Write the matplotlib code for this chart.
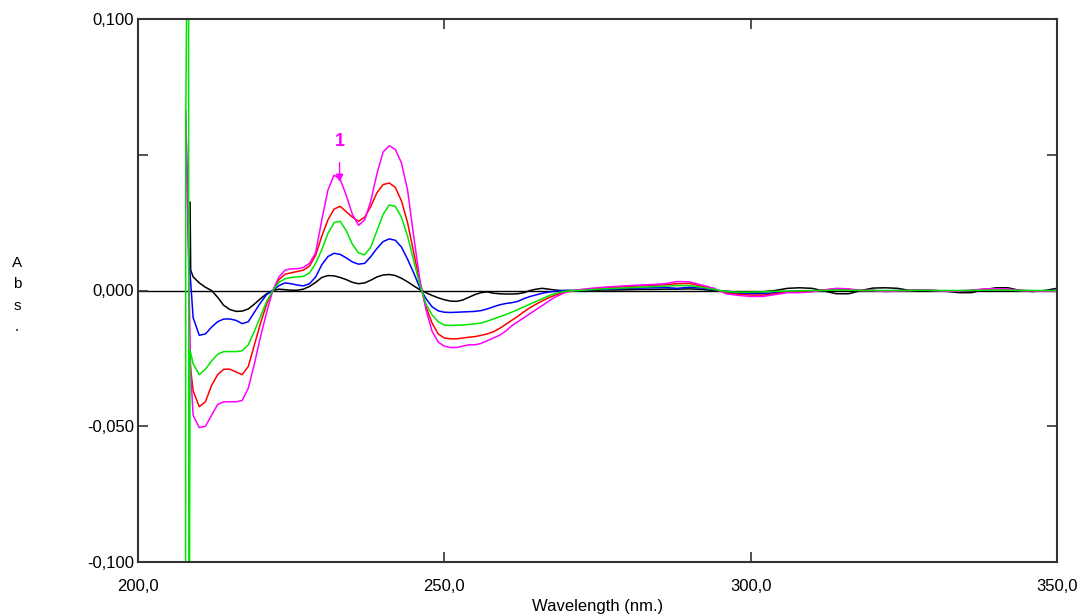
import matplotlib
matplotlib.use("Agg")
import matplotlib.pyplot as plt

plt.rcParams['font.family'] = ['Liberation Sans Narrow', 'Liberation Sans', 'DejaVu Sans']

# wavelengths (nm)
MAIN_X = [209, 210, 211, 212, 213, 214, 215, 216, 217, 218, 219, 220, 221, 222,
          223, 224, 225, 226, 227, 228, 229, 230, 231, 232, 233, 234, 235, 236,
          237, 238, 239, 240, 241, 242, 243, 244, 245, 246, 247, 248, 249, 250,
          251, 252, 253, 254, 255, 256, 257, 258, 259, 260, 261, 262, 263, 264,
          265, 266, 267, 268, 269, 270]
TAIL_X = [272, 274, 276, 278, 280, 282, 284, 286, 288, 290, 292, 294, 296, 298,
          300, 302, 304, 306, 308, 310, 312, 314, 316, 318, 320, 322, 324, 326,
          328, 330, 332, 334, 336, 338, 340, 342, 344, 346, 348, 350]

# magenta (1)
mag_head_x = [207.8, 208.3, 208.6]
mag_head = [0.066, 0.005, -0.030]
mag_main = [-0.046, -0.0505, -0.050, -0.046, -0.042, -0.041, -0.041, -0.041, -0.0405,
            -0.036, -0.027, -0.017, -0.008, 0.0, 0.005, 0.0075, 0.008, 0.008, 0.0085,
            0.010, 0.014, 0.026, 0.037, 0.0425, 0.041, 0.035, 0.028, 0.024, 0.026,
            0.033, 0.043, 0.051, 0.0533, 0.052, 0.047, 0.037, 0.020, 0.004, -0.007,
            -0.015, -0.019, -0.0205, -0.021, -0.021, -0.0205, -0.020, -0.020, -0.0195,
            -0.0185, -0.0175, -0.0165, -0.015, -0.013, -0.0115, -0.010, -0.0085,
            -0.007, -0.0055, -0.004, -0.0025, -0.0015, -0.0005]
mag_tail = [0.0003, 0.0008, 0.0012, 0.0015, 0.0018, 0.002, 0.0022, 0.0025, 0.0033,
            0.0032, 0.002, 0.0008, -0.0012, -0.0018, -0.0022, -0.0022, -0.0015,
            -0.0008, -0.0008, -0.0005, 0.0002, 0.0008, 0.0006, 0.0, 0.0, -0.0004,
            -0.0002, 0.0, 0.0003, 0.0, -0.0003, -0.0002, 0.0, 0.0006, 0.0007, 0.0005,
            0.0, -0.0002, -0.0003, -0.0003]

# red
red_head_x = [208.4]
red_head = [-0.025]
red_main = [-0.037, -0.0428, -0.041, -0.035, -0.031, -0.029, -0.029, -0.030, -0.031,
            -0.028, -0.020, -0.012, -0.005, 0.0, 0.004, 0.006, 0.0065, 0.007, 0.0075,
            0.009, 0.013, 0.020, 0.026, 0.030, 0.031, 0.029, 0.027, 0.0255, 0.027,
            0.031, 0.036, 0.039, 0.0396, 0.038, 0.033, 0.025, 0.014, 0.003, -0.006,
            -0.012, -0.016, -0.0175, -0.0178, -0.0178, -0.0175, -0.0172, -0.017,
            -0.0165, -0.016, -0.0152, -0.014, -0.0125, -0.011, -0.0095, -0.0078,
            -0.0063, -0.005, -0.0038, -0.0027, -0.0018, -0.001, -0.0005]
red_tail = [0.0002, 0.0006, 0.001, 0.0012, 0.0015, 0.0017, 0.0019, 0.0021, 0.0025,
            0.0026, 0.0016, 0.0006, -0.0009, -0.0014, -0.0017, -0.0017, -0.0012,
            -0.0006, -0.0005, -0.0003, 0.0002, 0.0006, 0.0004, 0.0, 0.0, -0.0003,
            -0.0001, 0.0, 0.0002, 0.0, -0.0002, -0.0001, 0.0, 0.0004, 0.0005, 0.0004,
            0.0, -0.0001, -0.0002, -0.0002]

# green
grn_head_x = [207.75, 207.8, 208.25, 208.3, 208.5]
grn_head = [-0.2, 0.064, 0.2, -0.2, -0.022]
grn_main = [-0.027, -0.031, -0.029, -0.026, -0.0235, -0.0225, -0.0225, -0.0225,
            -0.0222, -0.020, -0.015, -0.0095, -0.004, 0.0, 0.003, 0.0043, 0.0048,
            0.005, 0.0052, 0.0065, 0.010, 0.015, 0.021, 0.025, 0.0255, 0.022, 0.017,
            0.0138, 0.0132, 0.016, 0.022, 0.028, 0.0315, 0.031, 0.027, 0.020, 0.011,
            0.002, -0.005, -0.009, -0.0115, -0.0127, -0.0129, -0.0128, -0.0127,
            -0.0125, -0.0123, -0.012, -0.0113, -0.0105, -0.0097, -0.0089, -0.008,
            -0.007, -0.006, -0.005, -0.004, -0.003, -0.002, -0.0012, -0.0006, -0.0002]
grn_tail = [0.0, 0.0003, 0.0006, 0.0008, 0.001, 0.0012, 0.0014, 0.0016, 0.0018,
            0.0018, 0.0012, 0.0004, -0.0004, -0.0006, -0.0006, -0.0005, -0.0003,
            -0.0002, -0.0001, 0.0, 0.0, 0.0002, 0.0001, 0.0, 0.0, 0.0, 0.0, 0.0,
            0.0001, 0.0, 0.0, 0.0, 0.0, 0.0001, 0.0002, 0.0001, 0.0, 0.0, 0.0, -0.0001]

# blue
blu_head_x = [207.8, 208.3, 208.6]
blu_head = [0.063, 0.012, 0.003]
blu_main = [-0.010, -0.0165, -0.016, -0.0135, -0.0115, -0.0105, -0.0105, -0.011,
            -0.0122, -0.0115, -0.008, -0.0045, -0.0015, 0.0, 0.0018, 0.0028, 0.0025,
            0.002, 0.0017, 0.0025, 0.005, 0.0095, 0.0125, 0.0137, 0.0133, 0.012,
            0.0105, 0.0097, 0.010, 0.0125, 0.0155, 0.018, 0.019, 0.0185, 0.016,
            0.0115, 0.0065, 0.001, -0.003, -0.006, -0.0075, -0.008, -0.0081, -0.008,
            -0.0079, -0.0078, -0.0077, -0.0074, -0.0068, -0.006, -0.0053, -0.0048,
            -0.0045, -0.004, -0.003, -0.0022, -0.0016, -0.001, -0.0006, -0.0003,
            -0.0001, 0.0]
blu_tail = [0.0, 0.0003, 0.0005, 0.0006, 0.0008, 0.0009, 0.001, 0.0011, 0.0008,
            0.0012, 0.0009, 0.0003, -0.0006, -0.001, -0.0012, -0.0012, -0.0008,
            -0.0004, -0.0003, -0.0002, 0.0001, 0.0004, 0.0003, 0.0, 0.0, -0.0002,
            0.0, 0.0, 0.0002, 0.0, -0.0002, -0.0001, 0.0, 0.0003, 0.0004, 0.0003,
            0.0, -0.0001, -0.0001, 0.0]

# black
blk_head_x = [208.5, 208.6]
blk_head = [0.0325, 0.0075]
blk_main = [0.005, 0.0028, 0.0012, 0.0, -0.0025, -0.0055, -0.007, -0.0077, -0.0076,
            -0.0068, -0.005, -0.003, -0.0012, 0.0, 0.0005, 0.0003, 0.0001, 0.0001,
            0.0005, 0.0015, 0.003, 0.0048, 0.0055, 0.0054, 0.0048, 0.004, 0.003,
            0.0025, 0.0028, 0.0038, 0.005, 0.0057, 0.0059, 0.0055, 0.0045, 0.0032,
            0.0017, 0.0003, -0.0008, -0.0018, -0.0027, -0.0034, -0.0039, -0.004,
            -0.0035, -0.0025, -0.0015, -0.0008, -0.0005, -0.001, -0.0012, -0.0013,
            -0.0013, -0.0012, -0.0008, 0.0, 0.0005, 0.0008, 0.0005, 0.0002, 0.0, 0.0]
blk_tail = [0.0, 0.0, 0.0002, 0.0002, 0.0003, 0.0004, 0.0004, 0.0005, 0.0005, 0.0006,
            0.0004, 0.0, -0.0003, -0.0006, -0.0008, -0.0005, 0.0, 0.0008, 0.001,
            0.0008, -0.0002, -0.0012, -0.0012, 0.0, 0.0009, 0.001, 0.0008, 0.0,
            -0.0002, -0.0002, -0.0003, -0.0008, -0.0008, 0.0002, 0.001, 0.001, 0.0,
            -0.0004, 0.0, 0.0008]

X_TICKS = [200, 250, 300, 350]
X_LABELS = ['200,0', '250,0', '300,0', '350,0']
Y_TICKS = [-0.1, -0.05, 0.0, 0.05, 0.1]
Y_LABELS = ['-0,100', '-0,050', '0,000', '', '0,100']

fig = plt.figure(figsize=(10.82, 6.15), dpi=100)
ax = fig.add_axes([138 / 1082, 1 - 562 / 615, (1057 - 138) / 1082, (562 - 19) / 615])

ax.axhline(0, color='black', lw=1.0, zorder=1)

series = [
    (blk_head_x, blk_head, blk_main, blk_tail, 'black'),
    (blu_head_x, blu_head, blu_main, blu_tail, '#0000ff'),
    (red_head_x, red_head, red_main, red_tail, '#ff0000'),
    (mag_head_x, mag_head, mag_main, mag_tail, '#ff00ff'),
    (grn_head_x, grn_head, grn_main, grn_tail, '#00e600'),
]
for hx, hy, my, ty, col in series:
    ax.plot(hx + MAIN_X + TAIL_X, hy + my + ty, color=col, lw=1.1, zorder=2)

ax.annotate('1', xy=(232.9, 0.0400), xytext=(232.9, 0.0548), color='#ff00ff',
            ha='center', va='center', fontsize=13, fontweight='bold',
            arrowprops=dict(arrowstyle='-|>', color='#ff00ff', lw=1.0,
                            shrinkA=7, shrinkB=0, mutation_scale=11))

ax.set_xlim(200, 350)
ax.set_ylim(-0.1, 0.1)
ax.set_xticks(X_TICKS)
ax.set_xticklabels(X_LABELS)
ax.set_yticks(Y_TICKS)
ax.set_yticklabels(Y_LABELS)
ax.tick_params(direction='in', top=True, right=True, length=7, width=1.2,
               labelsize=12, color='#333333')
ax.tick_params(axis='x', pad=12)
ax.tick_params(axis='y', pad=3)
for s in ax.spines.values():
    s.set_color('#333333')
    s.set_linewidth(1.5)

ax.set_xlabel('Wavelength (nm.)', fontsize=12, labelpad=4)
fig.text(17 / 1082, 1 - 295 / 615, 'A\nb\ns\n.', ha='center', va='center',
         fontsize=11, linespacing=1.65)

fig.savefig('out.png', dpi=100)
